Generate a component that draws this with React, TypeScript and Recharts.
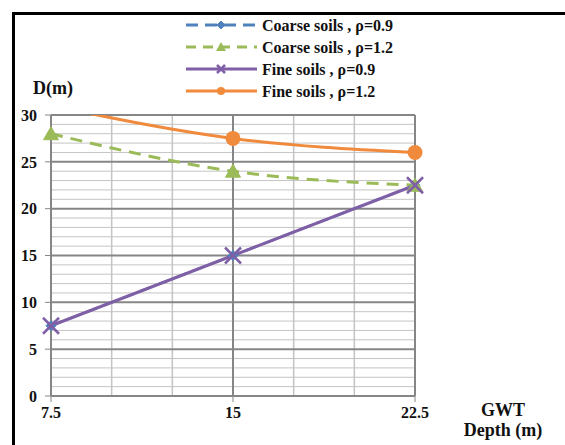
import React from "react";
import {
  LineChart,
  Line,
  XAxis,
  YAxis,
  ReferenceLine,
} from "recharts";

// GWT depth (m) on the x axis
const gwtDepth = [7.5, 15, 22.5];

// D (m) for each curve
const coarse09 = [7.5, 15, 22.5];
const coarse12 = [28, 24, 22.5];
const fine09 = [7.5, 15, 22.5];
const fine12 = [31, 27.5, 26];

const xTicks = [7.5, 15, 22.5];
const yTicks = [0, 5, 10, 15, 20, 25, 30];
const xMinorGrid = [10, 12.5, 17.5, 20];
const yMinorGrid = Array.from({ length: 31 }, (_, i) => i).filter((v) => v % 5 !== 0);

const FONT = "'Liberation Serif', 'Times New Roman', serif";
const DARK_GRID = "#868686";
const LIGHT_GRID = "#c4c4c4";

const BLUE = "#4f81bd";
const GREEN = "#9bbb59";
const PURPLE = "#7f5fa6";
const ORANGE = "#f08a3c";

const data = gwtDepth.map((x, i) => ({
  x,
  coarse09: coarse09[i],
  coarse12: coarse12[i],
  fine09: fine09[i],
  fine12: fine12[i],
  // markers above the plot top are dropped, like the original
  fine12Marker: fine12[i] <= 30 ? fine12[i] : null,
}));

type DotProps = { cx?: number; cy?: number; value?: number | null; index?: number };

function Diamond({ cx, cy, size = 5, color }: { cx: number; cy: number; size?: number; color: string }) {
  return (
    <polygon
      points={`${cx},${cy - size} ${cx + size},${cy} ${cx},${cy + size} ${cx - size},${cy}`}
      fill={color}
      stroke={color}
    />
  );
}

function Triangle({ cx, cy, color }: { cx: number; cy: number; color: string }) {
  return (
    <polygon
      points={`${cx},${cy - 7} ${cx + 7.5},${cy + 6} ${cx - 7.5},${cy + 6}`}
      fill={color}
      stroke={color}
    />
  );
}

function Cross({ cx, cy, color, s = 8 }: { cx: number; cy: number; color: string; s?: number }) {
  return (
    <g stroke={color} strokeWidth={2.5}>
      <line x1={cx - s} y1={cy - s} x2={cx + s} y2={cy + s} />
      <line x1={cx - s} y1={cy + s} x2={cx + s} y2={cy - s} />
    </g>
  );
}

const blueDot = (p: DotProps) =>
  p.cx == null || p.cy == null || p.value == null ? <g key={p.index} /> : (
    <Diamond key={p.index} cx={p.cx} cy={p.cy} color={BLUE} />
  );
const greenDot = (p: DotProps) =>
  p.cx == null || p.cy == null || p.value == null ? <g key={p.index} /> : (
    <Triangle key={p.index} cx={p.cx} cy={p.cy} color={GREEN} />
  );
const purpleDot = (p: DotProps) =>
  p.cx == null || p.cy == null || p.value == null ? <g key={p.index} /> : (
    <Cross key={p.index} cx={p.cx} cy={p.cy} color={PURPLE} />
  );
const orangeDot = (p: DotProps) =>
  p.cx == null || p.cy == null || p.value == null ? <g key={p.index} /> : (
    <circle key={p.index} cx={p.cx} cy={p.cy} r={7.5} fill={ORANGE} />
  );

const legendItems = [
  { label: "Coarse soils , ρ=0.9", color: BLUE, dash: "12 7", marker: "diamond" },
  { label: "Coarse soils , ρ=1.2", color: GREEN, dash: "10 7", marker: "triangle" },
  { label: "Fine soils , ρ=0.9", color: PURPLE, dash: undefined, marker: "cross" },
  { label: "Fine soils , ρ=1.2", color: ORANGE, dash: undefined, marker: "circle" },
];

const tickStyle = { fontFamily: FONT, fontWeight: "bold" as const, fontSize: 16, fill: "#111" };

export default function App() {
  return (
    <div style={{ position: "absolute", left: 0, top: 0, width: 565, height: 445, background: "#fff" }}>
      <LineChart
        width={565}
        height={445}
        data={data}
        margin={{ top: 115, right: 150, bottom: 0, left: 0 }}
      >
        <XAxis
          dataKey="x"
          type="number"
          domain={[7.5, 22.5]}
          ticks={xTicks}
          height={49}
          axisLine={{ stroke: DARK_GRID, strokeWidth: 2 }}
          tickLine={{ stroke: DARK_GRID }}
          tickSize={6}
          tickMargin={5}
          tick={tickStyle}
        />
        <YAxis
          domain={[0, 30]}
          ticks={yTicks}
          width={51}
          axisLine={{ stroke: DARK_GRID, strokeWidth: 2 }}
          tickLine={{ stroke: DARK_GRID }}
          tickSize={6}
          tickMargin={8}
          tick={tickStyle}
        />
        <YAxis yAxisId="clip" hide domain={[0, 30]} allowDataOverflow />

        {yMinorGrid.map((v) => (
          <ReferenceLine key={`ym${v}`} y={v} stroke={LIGHT_GRID} strokeWidth={1} />
        ))}
        {xMinorGrid.map((v) => (
          <ReferenceLine key={`xm${v}`} x={v} stroke={LIGHT_GRID} strokeWidth={1.5} />
        ))}
        {yTicks.slice(1).map((v) => (
          <ReferenceLine key={`yM${v}`} y={v} stroke={DARK_GRID} strokeWidth={2} />
        ))}
        {xTicks.slice(1).map((v) => (
          <ReferenceLine key={`xM${v}`} x={v} stroke={DARK_GRID} strokeWidth={2} />
        ))}

        <Line
          dataKey="coarse09"
          type="linear"
          stroke={BLUE}
          strokeWidth={2.5}
          strokeDasharray="12 7"
          dot={blueDot}
          activeDot={false}
          isAnimationActive={false}
        />
        <Line
          dataKey="coarse12"
          type="monotone"
          stroke={GREEN}
          strokeWidth={3}
          strokeDasharray="12 8"
          dot={greenDot}
          activeDot={false}
          isAnimationActive={false}
        />
        <Line
          dataKey="fine09"
          type="linear"
          stroke={PURPLE}
          strokeWidth={3}
          dot={purpleDot}
          activeDot={false}
          isAnimationActive={false}
        />
        <Line
          dataKey="fine12"
          yAxisId="clip"
          type="monotone"
          stroke={ORANGE}
          strokeWidth={3}
          dot={false}
          activeDot={false}
          isAnimationActive={false}
        />
        <Line
          dataKey="fine12Marker"
          type="monotone"
          stroke="none"
          dot={orangeDot}
          activeDot={false}
          isAnimationActive={false}
        />
      </LineChart>

      <svg
        width={565}
        height={445}
        style={{ position: "absolute", left: 0, top: 0, pointerEvents: "none" }}
      >
        {/* frame */}
        <rect x={12} y={12} width={553} height={3} fill="#000" />
        <rect x={12} y={12} width={3} height={433} fill="#000" />

        {/* legend */}
        {legendItems.map((it, i) => {
          const y = 25 + i * 22;
          return (
            <g key={it.label}>
              <line x1={186} x2={257} y1={y} y2={y} stroke={it.color} strokeWidth={3} strokeDasharray={it.dash} />
              {it.marker === "diamond" && <Diamond cx={221} cy={y} size={4} color={it.color} />}
              {it.marker === "triangle" && (
                <polygon points={`221,${y - 5} 226,${y + 4} 216,${y + 4}`} fill={it.color} />
              )}
              {it.marker === "cross" && <Cross cx={221} cy={y} color={it.color} s={4} />}
              {it.marker === "circle" && <circle cx={221} cy={y} r={4} fill={it.color} />}
              <text x={262} y={y + 6} fontFamily={FONT} fontWeight="bold" fontSize={16} fill="#111">
                {it.label}
              </text>
            </g>
          );
        })}

        {/* axis titles */}
        <text x={33} y={94} fontFamily={FONT} fontWeight="bold" fontSize={18} fill="#111">
          D(m)
        </text>
        <text x={503} y={416} textAnchor="middle" fontFamily={FONT} fontWeight="bold" fontSize={18} fill="#111">
          GWT
        </text>
        <text x={503} y={436} textAnchor="middle" fontFamily={FONT} fontWeight="bold" fontSize={18} fill="#111">
          Depth (m)
        </text>
      </svg>
    </div>
  );
}
